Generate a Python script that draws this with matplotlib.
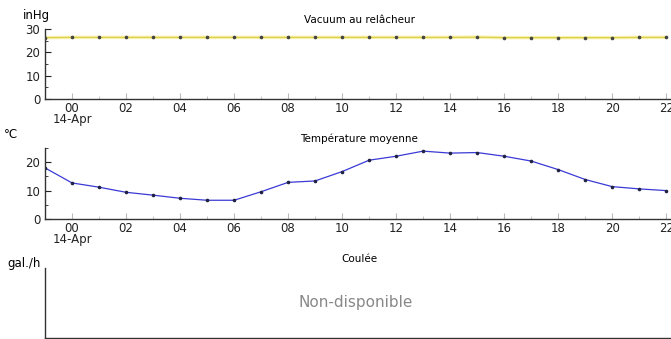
import matplotlib
matplotlib.use('Agg')
import matplotlib.pyplot as plt
from matplotlib.ticker import MultipleLocator

# heures depuis minuit le 14 avril (-1 = 23h la veille)
hours = list(range(-1, 23))
hour_labels = ["00\n14-Apr"] + ["%02d" % h for h in range(2, 23, 2)]

vacuum = [26.3, 26.4, 26.4, 26.4, 26.4, 26.4, 26.4, 26.4, 26.4, 26.4, 26.4, 26.4,
          26.4, 26.4, 26.4, 26.4, 26.5, 26.3, 26.3, 26.3, 26.3, 26.3, 26.4, 26.4]
temperature = [18.0, 12.7, 11.2, 9.4, 8.4, 7.3, 6.6, 6.6, 9.6, 12.9, 13.4, 16.7,
               20.7, 22.1, 23.9, 23.2, 23.4, 22.1, 20.4, 17.4, 13.9, 11.4, 10.6, 10.0]

W, H = 671, 339
fig = plt.figure(figsize=(W / 100, H / 100), dpi=100)


def make_axes(top_px, bottom_px):
    ax = fig.add_axes([45 / W, 1 - bottom_px / H, 628 / W, (bottom_px - top_px) / H])
    ax.spines['top'].set_visible(False)
    ax.spines['right'].set_visible(False)
    for s in ('left', 'bottom'):
        ax.spines[s].set_color('#333333')
        ax.spines[s].set_linewidth(1.0)
    ax.tick_params(which='both', direction='in', labelsize=8.5, colors='#222222')
    ax.tick_params(which='major', length=4)
    ax.tick_params(which='minor', length=2)
    ax.tick_params(axis='x', which='both', color='#bbbbbb')
    ax.tick_params(axis='x', pad=2)
    ax.set_xlim(-1, 22.25)
    return ax


def hour_axis(ax):
    ax.set_xticks(range(0, 23, 2))
    ax.set_xticklabels(hour_labels, linespacing=0.85)
    ax.xaxis.set_minor_locator(MultipleLocator(1))


# Vacuum
ax1 = make_axes(29, 99)
ax1.plot(hours, vacuum, color='#f7f2b0', lw=2.5, zorder=2)
ax1.plot(hours, vacuum, color='#ddd04a', lw=0.9, marker='o', ms=1.6,
         mfc='#444444', mec='#444444', zorder=3)
ax1.set_ylim(0, 30)
ax1.set_yticks([0, 10, 20, 30])
ax1.yaxis.set_minor_locator(MultipleLocator(5))
hour_axis(ax1)
ax1.set_title("Vacuum au relâcheur", fontsize=7.5, pad=4)
fig.text(23 / W, 1 - 16 / H, "inHg", fontsize=8.5, va='center', ha='left')

# Temperature
ax2 = make_axes(148, 219)
ax2.plot(hours, temperature, color='#3a3ad6', lw=0.9, marker='o', ms=1.6,
         mfc='#222244', mec='#222244')
ax2.set_ylim(0, 25)
ax2.set_yticks([0, 10, 20])
ax2.yaxis.set_minor_locator(MultipleLocator(5))
hour_axis(ax2)
ax2.set_title("Température moyenne", fontsize=7.5, pad=4)
fig.text(4 / W, 1 - 135 / H, "°C", fontsize=8.5, va='center', ha='left')

# Coulée (no data)
ax3 = make_axes(268, 338)
ax3.set_xticks([])
ax3.set_yticks([])
ax3.set_title("Coulée", fontsize=7.5, pad=4)
ax3.text(0.495, 0.5, "Non-disponible", transform=ax3.transAxes, ha='center',
         va='center', fontsize=11, color='#888888')
fig.text(7 / W, 1 - 263 / H, "gal./h", fontsize=8.5, va='center', ha='left')

fig.savefig("out.png", dpi=100)
